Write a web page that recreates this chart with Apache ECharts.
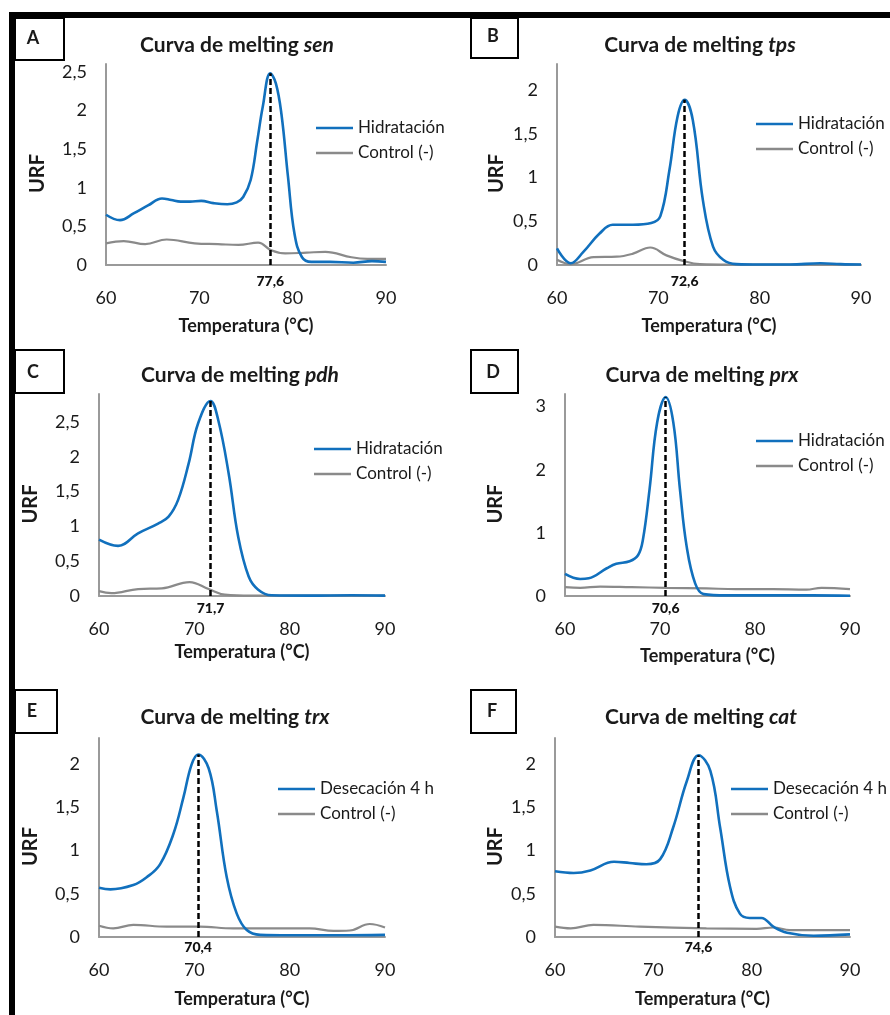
<!DOCTYPE html>
<html>
<head>
<meta charset="utf-8">
<script src="https://cdn.jsdelivr.net/npm/echarts/dist/echarts.min.js"></script>
<style>
  html, body { margin: 0; background: #fff; }
  #chart { width: 890px; height: 1015px; }
</style>
</head>
<body>
<div id="chart"></div>
<script>
// melting curves (temperature in °C, URF)
var tempA = [60, 61.5, 63, 64.5, 66, 67, 68, 69, 70.2, 71.5, 73, 74, 74.7, 75.5, 76.2, 76.8, 77.6, 78.2, 78.8, 79.5, 80.2, 81, 82, 84, 86.5, 88.5, 90]
var hidA = [0.65, 0.58, 0.67, 0.77, 0.86, 0.84, 0.82, 0.82, 0.83, 0.80, 0.785, 0.81, 0.88, 1.10, 1.60, 2.05, 2.48, 2.35, 1.95, 1.14, 0.40, 0.10, 0.04, 0.04, 0.03, 0.05, 0.04]
var ctrlTempA = [60, 61.9, 64.2, 66.5, 69.5, 72, 74.2, 76.3, 77.7, 79.2, 81.5, 83.5, 86.3, 88, 90]
var ctrlA = [0.28, 0.31, 0.27, 0.33, 0.28, 0.27, 0.26, 0.29, 0.19, 0.15, 0.16, 0.17, 0.10, 0.08, 0.08]

var tempB = [60, 61.35, 62.6, 64.2, 65.5, 67.5, 69.3, 70.2, 71.1, 71.9, 72.6, 73.4, 74.4, 75.4, 76.4, 77.7, 80, 83, 86, 88, 90]
var hidB = [0.19, 0.02, 0.15, 0.36, 0.46, 0.46, 0.48, 0.56, 1.09, 1.70, 1.89, 1.66, 0.74, 0.21, 0.06, 0.01, 0.005, 0.005, 0.02, 0.01, 0.005]
var ctrlTempB = [60, 61.35, 63.6, 65.9, 67.5, 69.2, 70.8, 72.5, 74.1, 77, 80, 85, 90]
var ctrlB = [0.06, 0.01, 0.09, 0.095, 0.13, 0.20, 0.11, 0.045, 0.01, 0.005, 0.005, 0.005, 0.005]

var tempC = [60, 62, 64.1, 66.2, 67.3, 68.3, 69.4, 70.4, 71.7, 72.5, 73.6, 74.6, 75.7, 76.7, 78.1, 82, 86.5, 90]
var hidC = [0.81, 0.72, 0.90, 1.04, 1.14, 1.38, 1.90, 2.48, 2.80, 2.53, 1.76, 0.85, 0.28, 0.09, 0.01, 0.005, 0.01, 0.005]
var ctrlTempC = [60, 61.3, 64.1, 66.6, 69.5, 71.5, 73.2, 76, 80, 85, 90]
var ctrlC = [0.07, 0.04, 0.10, 0.11, 0.20, 0.10, 0.02, 0.005, 0.005, 0.005, 0.005]

var tempD = [60, 61.6, 62.5, 64.4, 65.4, 66.8, 67.7, 68.2, 68.9, 69.7, 70.6, 71.4, 72.1, 72.8, 73.7, 74.6, 77, 82, 86, 90]
var hidD = [0.35, 0.27, 0.28, 0.44, 0.51, 0.55, 0.65, 0.89, 1.69, 2.75, 3.15, 2.75, 1.69, 0.79, 0.20, 0.03, 0.01, 0.01, 0.01, 0.005]
var ctrlTempD = [60, 61.6, 63.7, 67, 70.7, 74.9, 78, 81.9, 85.4, 87, 90]
var ctrlD = [0.14, 0.13, 0.15, 0.14, 0.13, 0.12, 0.11, 0.11, 0.10, 0.13, 0.11]

var tempE = [60, 61.2, 63.6, 65, 66.4, 67.8, 68.85, 69.7, 70.4, 71.5, 72.35, 73.4, 74.45, 75.5, 76.9, 80, 85, 90]
var hidE = [0.57, 0.55, 0.60, 0.69, 0.84, 1.19, 1.61, 1.99, 2.11, 1.95, 1.46, 0.69, 0.27, 0.08, 0.025, 0.02, 0.02, 0.025]
var ctrlTempE = [60, 61.5, 63.6, 67.1, 70.5, 74.1, 77.6, 82.1, 84.6, 86.3, 88.4, 90]
var ctrlE = [0.13, 0.10, 0.14, 0.12, 0.12, 0.10, 0.10, 0.10, 0.07, 0.075, 0.15, 0.11]

var tempF = [60, 61.9, 63.6, 66, 67.6, 69.3, 70.7, 72, 73.4, 74.6, 75.8, 76.8, 77.8, 78.8, 79.8, 81, 82.2, 83.6, 86.3, 90]
var hidF = [0.76, 0.74, 0.77, 0.87, 0.855, 0.84, 0.90, 1.26, 1.80, 2.10, 1.92, 1.26, 0.58, 0.27, 0.22, 0.22, 0.12, 0.05, 0.015, 0.03]
var ctrlTempF = [60, 61.6, 63.9, 68.6, 75.4, 80.5, 82.2, 83.9, 90]
var ctrlF = [0.12, 0.10, 0.14, 0.12, 0.10, 0.095, 0.11, 0.08, 0.08]

var letters = ['A', 'B', 'C', 'D', 'E', 'F']
var genes = ['sen', 'tps', 'pdh', 'prx', 'trx', 'cat']
var sampleNames = ['Hidratación', 'Hidratación', 'Hidratación', 'Hidratación', 'Desecación 4 h', 'Desecación 4 h']
var controlName = 'Control (-)'
var peakTemps = [77.6, 72.6, 71.7, 70.6, 70.4, 74.6]
var yMax = [2.6, 2.3, 2.9, 3.2, 2.3, 2.3]
var yStep = [0.5, 0.5, 0.5, 1, 0.5, 0.5]
var xTicks = [60, 70, 80, 90]

var sampleTemps = [tempA, tempB, tempC, tempD, tempE, tempF]
var sampleVals = [hidA, hidB, hidC, hidD, hidE, hidF]
var ctrlTemps = [ctrlTempA, ctrlTempB, ctrlTempC, ctrlTempD, ctrlTempE, ctrlTempF]
var ctrlVals = [ctrlA, ctrlB, ctrlC, ctrlD, ctrlE, ctrlF]

// layout (pixels)
var gridRects = [[106, 64, 280, 201], [557, 64, 304, 201], [99, 394, 286, 202], [565, 394, 285, 202], [99, 738, 286, 199], [555, 738, 295, 199]]
var titlePos = [[232, 30], [695, 30], [235, 360], [697, 360], [230, 702], [696, 702]]
var legendPos = [[311, 113], [751, 109], [309, 434], [751, 426], [273, 774], [726, 774]]
var boxRects = [[15, 18, 49, 42], [471, 18, 47, 40], [15, 350, 49, 43], [471, 350, 47, 43], [15, 690, 42, 43], [471, 690, 45, 43]]
var letterPos = [[33, 38], [493, 36], [33, 372], [493, 372], [32, 711], [492, 711]]
var urfGap = [58, 50, 58, 59, 58, 49]
var xNameGap = [52, 52, 47, 51, 53, 53]
var peakDist = [9, 9, 5, 5, 3, 3]

var FONT = 'Lato, "Open Sans", sans-serif'
var TXT = '#1a1a1a'
var BLUE = '#1170bd'
var GRAY = '#8a8a8a'
var AXIS = '#9a9a9a'

function zip(xs, ys) {
  var out = []
  for (var i = 0; i < xs.length; i++) out.push([xs[i], ys[i]])
  return out
}

function comma(v) {
  return String(v).replace('.', ',')
}

function yFormatter(step) {
  return function (v) {
    var k = v / step
    if (Math.abs(k - Math.round(k)) > 1e-6) return ''
    return comma(+v.toFixed(2))
  }
}

var grids = [], xAxes = [], yAxes = [], titles = [], legends = [], series = []
var graphics = [
  { type: 'rect', shape: { x: 9, y: 12, width: 881, height: 6 }, style: { fill: '#000' } },
  { type: 'rect', shape: { x: 9, y: 12, width: 6, height: 1003 }, style: { fill: '#000' } }
]

for (var i = 0; i < 6; i++) {
  var g = gridRects[i]
  grids.push({ left: g[0], top: g[1], width: g[2], height: g[3], containLabel: false, outerBoundsMode: 'none' })

  xAxes.push({
    type: 'value', gridIndex: i, min: 60, max: 90, interval: 10,
    name: 'Temperatura (°C)', nameLocation: 'middle', nameGap: xNameGap[i],
    nameTextStyle: { fontFamily: FONT, fontWeight: 'bold', fontSize: 18, color: TXT },
    axisLine: { show: true, lineStyle: { color: AXIS, width: 2 } },
    axisTick: { show: false },
    splitLine: { show: false },
    axisLabel: {
      margin: 24, fontFamily: FONT, fontSize: 18, color: TXT,
      formatter: function (v) { return xTicks.indexOf(v) >= 0 ? String(v) : '' }
    }
  })

  yAxes.push({
    type: 'value', gridIndex: i, min: 0, max: yMax[i], interval: yStep[i],
    name: 'URF', nameLocation: 'middle', nameGap: urfGap[i],
    nameTextStyle: { fontFamily: FONT, fontWeight: 'bold', fontSize: 20, color: TXT, padding: [0, 18, 0, 0] },
    axisLine: { show: true, lineStyle: { color: AXIS, width: 2 } },
    axisTick: { show: false },
    splitLine: { show: false },
    axisLabel: { margin: 19, fontFamily: FONT, fontSize: 18, color: TXT, formatter: yFormatter(yStep[i]) }
  })

  titles.push({
    text: '{n|Curva de melting }{i|' + genes[i] + '}',
    left: titlePos[i][0], top: titlePos[i][1], textAlign: 'center',
    textStyle: {
      rich: {
        n: { fontFamily: FONT, fontWeight: 'bold', fontSize: 21, color: TXT },
        i: { fontFamily: FONT, fontWeight: 'bold', fontStyle: 'italic', fontSize: 21, color: TXT }
      }
    }
  })

  legends.push({
    data: [sampleNames[i], controlName],
    orient: 'vertical', left: legendPos[i][0], top: legendPos[i][1],
    icon: 'rect', itemWidth: 37, itemHeight: 2.5, itemGap: 5,
    selectedMode: false,
    textStyle: { fontFamily: FONT, fontSize: 17, color: TXT, lineHeight: 20 }
  })

  var pIdx = sampleTemps[i].indexOf(peakTemps[i])
  var peakVal = sampleVals[i][pIdx]

  series.push({
    name: sampleNames[i], type: 'line', xAxisIndex: i, yAxisIndex: i,
    data: zip(sampleTemps[i], sampleVals[i]),
    smooth: 0.4, showSymbol: false, color: BLUE,
    lineStyle: { color: BLUE, width: 2.6 },
    z: 3,
    markLine: {
      silent: true, symbol: 'none',
      lineStyle: { color: '#000', width: 2.5, type: [6, 3] },
      label: {
        show: true, position: 'start', distance: peakDist[i],
        formatter: comma(peakTemps[i]),
        fontFamily: FONT, fontWeight: 900, fontSize: 14, color: '#111'
      },
      data: [[{ coord: [peakTemps[i], 0] }, { coord: [peakTemps[i], peakVal] }]]
    }
  })
  series.push({
    name: controlName, type: 'line', xAxisIndex: i, yAxisIndex: i,
    data: zip(ctrlTemps[i], ctrlVals[i]),
    smooth: 0.4, showSymbol: false, color: GRAY,
    lineStyle: { color: GRAY, width: 2.2 },
    z: 2
  })

  var b = boxRects[i]
  graphics.push({ type: 'rect', shape: { x: b[0], y: b[1], width: b[2], height: b[3] }, style: { fill: '#fff', stroke: '#000', lineWidth: 2 } })
  graphics.push({
    type: 'text', x: letterPos[i][0], y: letterPos[i][1],
    style: { text: letters[i], fontFamily: FONT, fontWeight: 'bold', fontSize: 18, fill: TXT, align: 'center', verticalAlign: 'middle' }
  })
}

var chart = echarts.init(document.getElementById('chart'), null, { renderer: 'canvas' })
chart.setOption({
  backgroundColor: '#fff',
  animation: false,
  title: titles,
  legend: legends,
  grid: grids,
  xAxis: xAxes,
  yAxis: yAxes,
  series: series,
  graphic: graphics
})
</script>
</body>
</html>
